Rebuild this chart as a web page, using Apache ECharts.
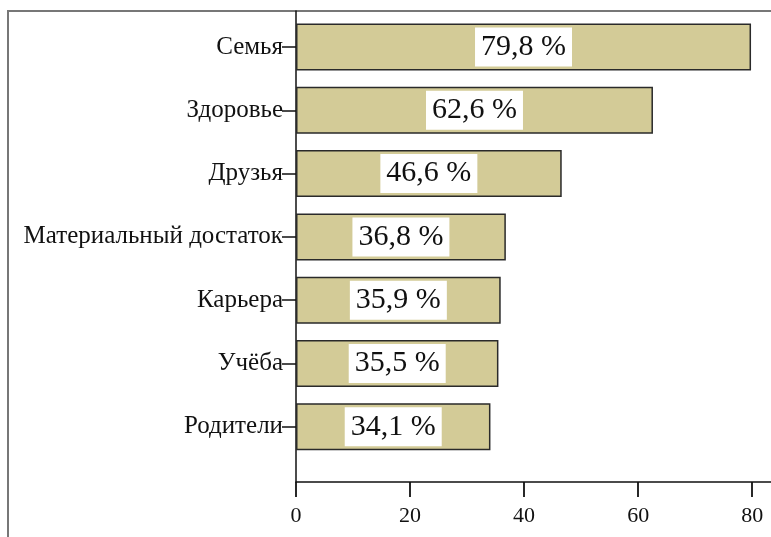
<!DOCTYPE html>
<html>
<head>
<meta charset="utf-8">
<script src="https://cdn.jsdelivr.net/npm/echarts@6/dist/echarts.min.js"></script>
<style>
  html, body { margin: 0; padding: 0; background: #fff; }
</style>
</head>
<body>
<div id="main" style="width: 771px; height: 537px;"></div>
<script>
// categories from top to bottom
const categories = ['Семья', 'Здоровье', 'Друзья', 'Материальный достаток', 'Карьера', 'Учёба', 'Родители']
const values = [79.8, 62.6, 46.6, 36.8, 35.9, 35.5, 34.1]
const xTicks = [0, 20, 40, 60, 80]

const myChart = echarts.init(document.getElementById('main'))
const serif = '"Liberation Serif", "DejaVu Serif", serif'

const option = {
  backgroundColor: '#fff',
  animation: false,
  graphic: [
    {
      type: 'polyline',
      shape: { points: [[8, 537], [8, 11], [771, 11]] },
      style: { stroke: '#777', lineWidth: 2, fill: null },
      silent: true
    }
  ],
  grid: [
    { left: 296, right: 0, top: 15.4, height: 443 },
    { left: 296, right: 0, top: 11, bottom: 55 }
  ],
  xAxis: [
    { type: 'value', gridIndex: 0, min: 0, max: 83.3, show: false },
    {
      type: 'value',
      gridIndex: 1,
      min: 0,
      max: 83.3,
      interval: 20,
      axisLine: { show: true, lineStyle: { color: '#111', width: 1.5 } },
      axisTick: { show: true, length: 15, customValues: xTicks, lineStyle: { color: '#111', width: 1.8 } },
      axisLabel: {
        customValues: xTicks,
        color: '#111',
        fontFamily: serif,
        fontSize: 22,
        margin: 23
      },
      splitLine: { show: false }
    }
  ],
  yAxis: [
    {
      type: 'category',
      gridIndex: 0,
      inverse: true,
      data: categories,
      axisLine: { show: false },
      axisTick: { show: true, alignWithLabel: true, length: 14, lineStyle: { color: '#111', width: 1.5 } },
      axisLabel: {
        color: '#111',
        fontFamily: serif,
        fontSize: 25,
        margin: 13
      }
    },
    {
      type: 'value',
      gridIndex: 1,
      axisLine: { show: true, lineStyle: { color: '#111', width: 1.5 } },
      axisTick: { show: false },
      axisLabel: { show: false },
      splitLine: { show: false }
    }
  ],
  series: [
    {
      type: 'bar',
      xAxisIndex: 0,
      yAxisIndex: 0,
      data: values,
      barWidth: 47,
      itemStyle: { color: '#d3cb97', borderColor: '#2a2a2a', borderWidth: 1.5 },
      label: {
        show: true,
        position: 'inside',
        formatter: p => p.value.toFixed(1).replace('.', ',') + ' %',
        color: '#111',
        fontFamily: serif,
        fontSize: 30,
        backgroundColor: '#fff',
        padding: [5, 6, 4, 6]
      }
    }
  ]
}

myChart.setOption(option)
</script>
</body>
</html>
